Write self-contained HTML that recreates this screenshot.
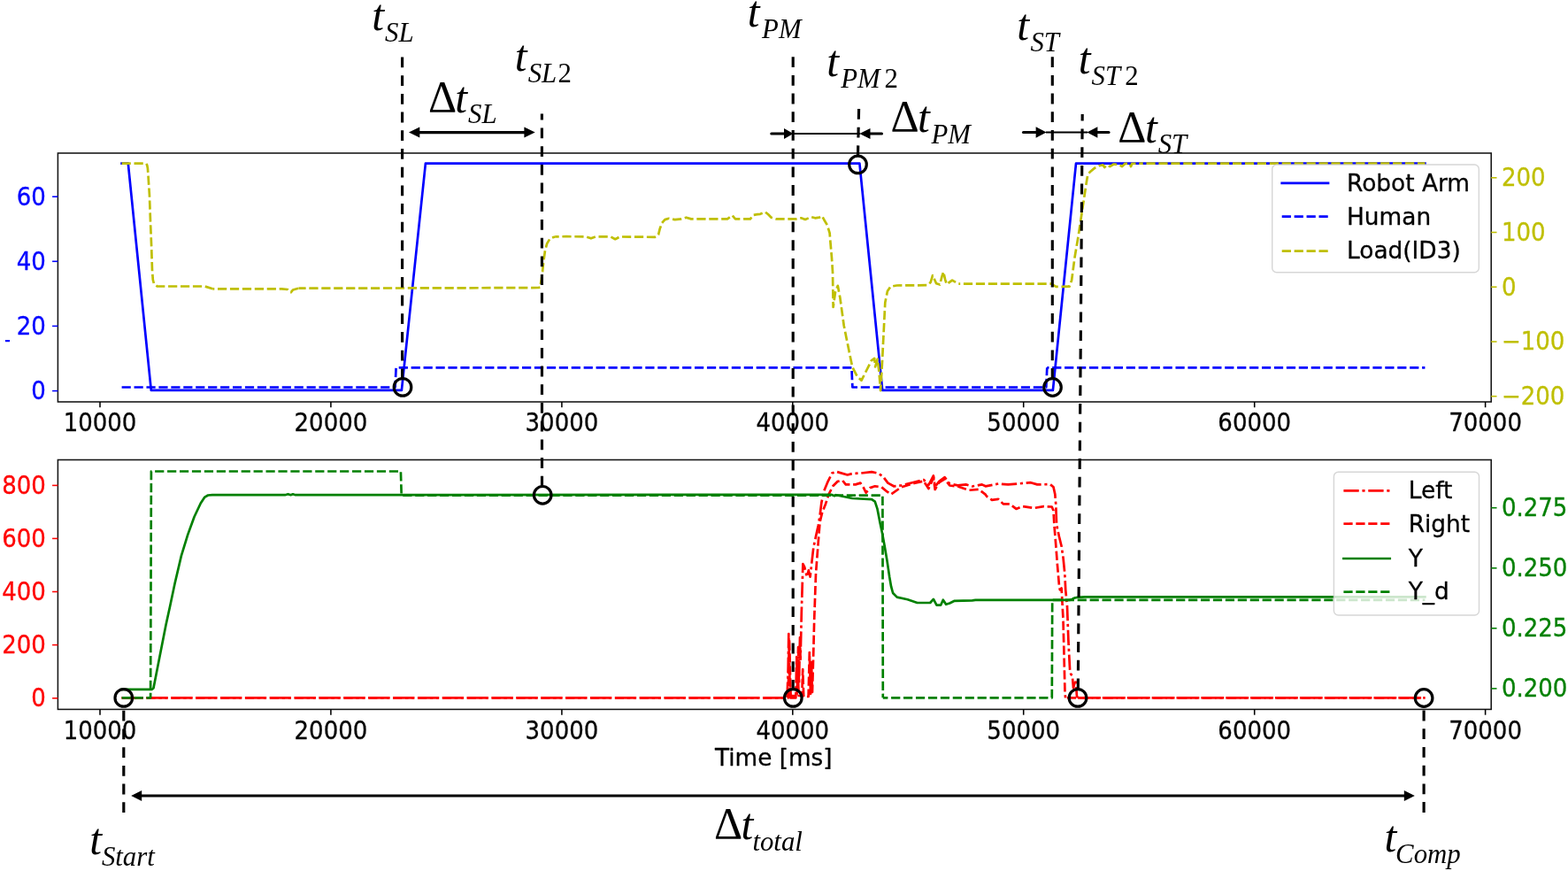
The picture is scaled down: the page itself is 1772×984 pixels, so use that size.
<!DOCTYPE html>
<html lang="en"><head><meta charset="utf-8"><title>Time chart</title>
<style>html,body{margin:0;padding:0;background:#fff;overflow:hidden}svg{display:block}.tk{font-family:"DejaVu Sans","Liberation Sans",sans-serif;font-size:26.00px;stroke-width:0.3px;stroke-linejoin:round}.m{font-family:"Liberation Serif","DejaVu Serif",serif;font-style:italic}.r{font-style:normal}</style></head><body>
<svg width="1772" height="984" viewBox="0 0 1772 984">
<rect x="0" y="0" width="1772" height="984" fill="#fff"/>
<defs><clipPath id="ct"><rect x="65.4" y="173.0" width="1619.8" height="281.0"/></clipPath><clipPath id="cb"><rect x="65.4" y="519.5" width="1619.8" height="281.9"/></clipPath></defs>
<g clip-path="url(#ct)">
<polyline points="137.6,184.7 144.8,184.7 170.8,440.9 453.9,440.9 480.9,184.7 971.4,184.7 997.2,440.9 1189.9,440.9 1216.0,184.7 1610.4,184.7" fill="none" stroke="#0000ff" stroke-width="2.70" stroke-linejoin="round" stroke-linecap="square"/>
<polyline points="137.6,437.5 446.6,437.5 447.6,415.3 962.4,415.3 963.4,437.5 1182.3,437.5 1183.3,415.3" fill="none" stroke="#0000ff" stroke-width="2.70" stroke-linejoin="round" stroke-linecap="butt" stroke-dasharray="10.22 3.71"/>
<polyline points="1183.3,415.3 1610.4,415.3" fill="none" stroke="#0000ff" stroke-width="2.70" stroke-linejoin="round" stroke-linecap="butt" stroke-dasharray="10.22 3.71" stroke-dashoffset="8.06"/>
<polyline points="137.6,184.7 165.0,184.7 166.2,186.5 166.9,190.0 167.6,200.0 168.9,220.0 170.0,250.0 171.2,280.0 172.0,305.0 172.8,316.0 174.0,320.5 177.6,323.5 231.3,323.5 240.3,326.3" fill="none" stroke="#bfbf00" stroke-width="2.70" stroke-linejoin="round" stroke-linecap="butt" stroke-dasharray="10.22 3.71"/>
<polyline points="240.3,326.3 318.2,326.3 325.0,327.0 328.9,330.2 331.0,327.5 337.4,325.7" fill="none" stroke="#bfbf00" stroke-width="2.70" stroke-linejoin="round" stroke-linecap="butt" stroke-dasharray="10.22 3.71" stroke-dashoffset="8.23"/>
<polyline points="337.4,325.7 500.0,325.4 608.5,325.0 610.3,324.6 611.8,316.0 613.1,306.7 614.3,295.5 616.0,283.0 618.2,275.1 621.6,269.5 627.2,267.4" fill="none" stroke="#bfbf00" stroke-width="2.70" stroke-linejoin="round" stroke-linecap="butt" stroke-dasharray="10.22 3.71" stroke-dashoffset="1.98"/>
<polyline points="627.2,267.4 640.0,267.2 662.0,267.3 667.9,269.3 673.5,267.3 690.0,267.4 695.3,270.2 700.5,267.5 740.1,267.8 744.1,265.0 745.8,258.2 748.0,252.0 751.4,248.1 755.9,246.8 762.7,248.1 770.0,247.3 775.6,245.7 781.0,247.4 822.0,247.4 827.6,243.5 831.0,247.4 847.9,247.4 851.3,242.9 856.0,242.2 859.2,241.8 864.8,239.5 868.2,242.3 871.6,245.7 877.2,247.4 900.0,247.4 905.4,246.3 910.0,248.0 916.7,245.1 921.2,246.3 925.8,245.7 929.1,244.0 931.4,248.5 934.8,254.2 937.6,263.2 938.7,276.7 939.9,290.3 941.0,307.2 941.6,347.0 944.0,330.0 946.8,322.8 949.4,336.6 953.7,367.7 958.9,393.6 963.2,414.4 968.4,424.7 973.5,429.9 978.7,419.5 984.8,407.4 988.2,404.9 989.1,414.4 991.7,405.7 993.4,419.5 995.1,441.1 996.9,410.9 998.6,376.4 1000.3,341.8 1002.9,328.9 1006.4,323.7 1013.3,322.5 1047.8,322.2 1051.7,318.9 1054.0,311.2 1058.1,320.2 1062.1,321.6 1064.4,312.6 1066.2,307.2 1068.0,315.3 1069.8,321.2 1076.1,316.6 1083.3,320.7" fill="none" stroke="#bfbf00" stroke-width="2.70" stroke-linejoin="round" stroke-linecap="butt" stroke-dasharray="10.22 3.71" stroke-dashoffset="5.73"/>
<polyline points="1083.3,320.7 1188.0,320.7 1193.5,323.9 1208.5,323.7 1211.1,316.8 1214.5,290.9 1218.9,265.0 1221.5,247.7 1224.9,225.3 1227.5,208.0 1229.2,197.6 1231.8,194.2 1237.0,189.9 1242.2,187.3 1246.5,186.4 1248.2,189.0 1250.8,186.4 1254.3,188.1 1258.6,185.5 1264.6,186.1 1268.1,188.1 1271.5,184.8 1276.7,184.8 1278.1,188.1 1279.3,184.8 1290.0,184.7" fill="none" stroke="#bfbf00" stroke-width="2.70" stroke-linejoin="round" stroke-linecap="butt" stroke-dasharray="10.22 3.71" stroke-dashoffset="8.33"/>
<polyline points="1290.0,184.7 1610.4,184.7" fill="none" stroke="#bfbf00" stroke-width="2.70" stroke-linejoin="round" stroke-linecap="butt" stroke-dasharray="10.22 3.71" stroke-dashoffset="8.49"/>
</g>
<g clip-path="url(#cb)">
<polyline points="137.6,788.4 889.5,788.4 890.6,760.0 891.3,716.0 892.4,765.0 893.3,788.4 899.3,788.4 900.3,742.0 901.2,781.0 902.1,731.0 903.0,772.0 904.0,720.0 904.6,745.0 905.8,692.0 907.4,637.0 909.2,640.7 912.0,651.7 913.8,644.4 915.6,651.7 917.4,635.2 919.3,618.8 922.0,606.0 924.8,593.2 926.6,582.2 928.4,567.6 931.2,554.8 935.7,543.8 940.3,534.6 944.9,532.8 957.7,536.5 963.2,535.0 972.3,534.6 985.1,533.2 992.4,534.6 997.9,538.3 1003.4,545.6 1010.0,549.3 1018.3,548.5 1033.0,544.7 1043.9,542.0 1049.4,548.0 1054.9,537.4 1056.7,550.0 1061.3,543.8 1067.7,539.2 1073.2,546.5 1082.3,548.4 1091.5,547.4 1098.8,549.5 1109.7,547.4 1113.7,549.3 1128.3,546.5 1139.3,547.4 1164.9,545.2 1172.2,547.4 1186.8,547.1 1190.5,550.2 1192.3,558.4 1193.2,569.4 1194.1,593.2 1196.9,606.0 1199.6,617.0 1201.5,629.8 1203.3,648.0 1204.2,666.3 1206.0,684.6 1207.4,723.5 1209.1,757.0 1210.2,761.5 1211.9,763.7 1213.0,777.2 1215.3,768.2 1216.4,778.3 1216.9,786.1 1218.0,788.4" fill="none" stroke="#ff0000" stroke-width="2.70" stroke-linejoin="round" stroke-linecap="butt" stroke-dasharray="17.32 3.71 3.13 3.71"/>
<polyline points="1218.0,788.4 1610.4,788.4" fill="none" stroke="#ff0000" stroke-width="2.70" stroke-linejoin="round" stroke-linecap="butt" stroke-dasharray="17.32 3.71 3.13 3.71"/>
<polyline points="137.6,788.4 890.6,788.4 892.0,722.0 893.6,786.0 900.5,786.0 901.6,750.0 902.6,786.0 906.3,786.0 907.2,756.0 908.2,787.0 913.6,787.0 914.8,737.0 916.0,784.0 917.0,748.0 918.0,782.0 919.2,740.0 920.2,700.0 922.0,648.0 924.8,611.5 926.6,589.5 929.3,578.5 933.0,569.4 936.6,558.4 941.2,549.3 946.7,543.8 952.2,542.9 955.8,547.4 966.8,547.4 972.3,545.6 976.0,551.1 978.7,556.6 983.3,551.1 988.8,549.3 996.1,550.2 1001.6,554.8 1007.0,558.4 1018.3,550.5 1033.0,546.0 1043.9,543.5 1049.4,552.0 1054.9,540.0 1056.7,553.0 1061.3,545.0 1067.7,541.0 1073.2,548.5 1082.3,549.5 1095.1,553.8 1106.1,552.9 1113.4,558.4 1115.5,561.2 1121.0,564.8 1128.3,563.9 1133.8,569.4 1141.1,569.4 1148.4,574.9 1155.7,572.1 1168.5,574.0 1179.5,572.1 1188.7,572.5 1190.5,576.7 1191.4,593.2 1193.2,615.1 1195.0,638.9 1196.9,660.8 1197.8,666.3 1199.6,664.5 1200.5,681.0 1201.5,700.0 1202.5,740.0 1203.5,782.7 1204.1,788.4" fill="none" stroke="#ff0000" stroke-width="2.70" stroke-linejoin="round" stroke-linecap="butt" stroke-dasharray="10.22 3.71"/>
<polyline points="1204.1,788.4 1610.4,788.4" fill="none" stroke="#ff0000" stroke-width="2.70" stroke-linejoin="round" stroke-linecap="butt" stroke-dasharray="10.22 3.71" stroke-dashoffset="12.18"/>
<polyline points="137.6,778.9 171.8,778.9 173.5,777.2 187.5,706.0 192.1,685.0 197.6,659.0 204.9,627.9 212.2,604.1 219.5,584.0 226.8,568.5 231.4,561.6 235.1,559.5 240.0,559.2 322.0,559.2 325.5,558.2 328.5,559.2 331.0,558.3 334.0,559.2 939.4,558.8 943.0,560.2 944.9,559.2 963.2,563.0 985.1,564.1 988.8,566.6 991.5,574.9 994.3,589.5 997.0,602.3 999.7,616.9 1002.5,633.4 1005.2,651.7 1007.1,662.7 1009.1,670.0 1013.7,674.6 1025.6,677.3 1036.6,681.0 1051.2,681.0 1054.9,676.9 1058.5,683.7 1063.1,683.7 1065.8,677.7 1069.1,682.8 1073.2,681.5 1078.7,678.8 1098.8,678.3 1102.4,677.9 1208.8,677.9 1211.5,677.0 1214.0,675.6 1218.0,674.8 1226.0,674.4 1610.4,674.4" fill="none" stroke="#008000" stroke-width="2.70" stroke-linejoin="round" stroke-linecap="square"/>
<polyline points="137.6,788.3 170.1,788.3 170.9,532.5 452.9,532.5 453.7,559.6 997.4,559.6 997.8,788.3" fill="none" stroke="#008000" stroke-width="2.70" stroke-linejoin="round" stroke-linecap="butt" stroke-dasharray="10.22 3.71"/>
<polyline points="997.8,788.3 1188.8,788.3 1189.2,677.9" fill="none" stroke="#008000" stroke-width="2.70" stroke-linejoin="round" stroke-linecap="butt" stroke-dasharray="10.22 3.71" stroke-dashoffset="4.63"/>
<polyline points="1189.2,677.9 1610.4,677.9" fill="none" stroke="#008000" stroke-width="2.70" stroke-linejoin="round" stroke-linecap="butt" stroke-dasharray="10.22 3.71" stroke-dashoffset="13.33"/>
</g>
<rect x="65.4" y="173.0" width="1619.8" height="281.0" fill="none" stroke="#141414" stroke-width="1.55"/>
<rect x="65.4" y="519.5" width="1619.8" height="281.9" fill="none" stroke="#141414" stroke-width="1.55"/>
<line x1="113.0" y1="454.0" x2="113.0" y2="460.3" stroke="#000" stroke-width="1.55"/>
<text class="tk" transform="translate(113.0 486.6) scale(1 1.07)" text-anchor="middle" fill="#000" stroke="#000">10000</text>
<line x1="373.9" y1="454.0" x2="373.9" y2="460.3" stroke="#000" stroke-width="1.55"/>
<text class="tk" transform="translate(373.9 486.6) scale(1 1.07)" text-anchor="middle" fill="#000" stroke="#000">20000</text>
<line x1="634.9" y1="454.0" x2="634.9" y2="460.3" stroke="#000" stroke-width="1.55"/>
<text class="tk" transform="translate(634.9 486.6) scale(1 1.07)" text-anchor="middle" fill="#000" stroke="#000">30000</text>
<line x1="895.8" y1="454.0" x2="895.8" y2="460.3" stroke="#000" stroke-width="1.55"/>
<text class="tk" transform="translate(895.8 486.6) scale(1 1.07)" text-anchor="middle" fill="#000" stroke="#000">40000</text>
<line x1="1156.7" y1="454.0" x2="1156.7" y2="460.3" stroke="#000" stroke-width="1.55"/>
<text class="tk" transform="translate(1156.7 486.6) scale(1 1.07)" text-anchor="middle" fill="#000" stroke="#000">50000</text>
<line x1="1417.7" y1="454.0" x2="1417.7" y2="460.3" stroke="#000" stroke-width="1.55"/>
<text class="tk" transform="translate(1417.7 486.6) scale(1 1.07)" text-anchor="middle" fill="#000" stroke="#000">60000</text>
<line x1="1678.6" y1="454.0" x2="1678.6" y2="460.3" stroke="#000" stroke-width="1.55"/>
<text class="tk" transform="translate(1678.6 486.6) scale(1 1.07)" text-anchor="middle" fill="#000" stroke="#000">70000</text>
<line x1="113.0" y1="801.4" x2="113.0" y2="807.7" stroke="#000" stroke-width="1.55"/>
<text class="tk" transform="translate(113.0 834.8) scale(1 1.07)" text-anchor="middle" fill="#000" stroke="#000">10000</text>
<line x1="373.9" y1="801.4" x2="373.9" y2="807.7" stroke="#000" stroke-width="1.55"/>
<text class="tk" transform="translate(373.9 834.8) scale(1 1.07)" text-anchor="middle" fill="#000" stroke="#000">20000</text>
<line x1="634.9" y1="801.4" x2="634.9" y2="807.7" stroke="#000" stroke-width="1.55"/>
<text class="tk" transform="translate(634.9 834.8) scale(1 1.07)" text-anchor="middle" fill="#000" stroke="#000">30000</text>
<line x1="895.8" y1="801.4" x2="895.8" y2="807.7" stroke="#000" stroke-width="1.55"/>
<text class="tk" transform="translate(895.8 834.8) scale(1 1.07)" text-anchor="middle" fill="#000" stroke="#000">40000</text>
<line x1="1156.7" y1="801.4" x2="1156.7" y2="807.7" stroke="#000" stroke-width="1.55"/>
<text class="tk" transform="translate(1156.7 834.8) scale(1 1.07)" text-anchor="middle" fill="#000" stroke="#000">50000</text>
<line x1="1417.7" y1="801.4" x2="1417.7" y2="807.7" stroke="#000" stroke-width="1.55"/>
<text class="tk" transform="translate(1417.7 834.8) scale(1 1.07)" text-anchor="middle" fill="#000" stroke="#000">60000</text>
<line x1="1678.6" y1="801.4" x2="1678.6" y2="807.7" stroke="#000" stroke-width="1.55"/>
<text class="tk" transform="translate(1678.6 834.8) scale(1 1.07)" text-anchor="middle" fill="#000" stroke="#000">70000</text>
<line x1="59.1" y1="222.2" x2="65.4" y2="222.2" stroke="#0000ff" stroke-width="1.55"/>
<text class="tk" transform="translate(51.8 231.5) scale(1 1.07)" text-anchor="end" fill="#0000ff" stroke="#0000ff">60</text>
<line x1="59.1" y1="295.3" x2="65.4" y2="295.3" stroke="#0000ff" stroke-width="1.55"/>
<text class="tk" transform="translate(51.8 304.6) scale(1 1.07)" text-anchor="end" fill="#0000ff" stroke="#0000ff">40</text>
<line x1="59.1" y1="368.4" x2="65.4" y2="368.4" stroke="#0000ff" stroke-width="1.55"/>
<text class="tk" transform="translate(51.8 377.8) scale(1 1.07)" text-anchor="end" fill="#0000ff" stroke="#0000ff">20</text>
<line x1="59.1" y1="441.6" x2="65.4" y2="441.6" stroke="#0000ff" stroke-width="1.55"/>
<text class="tk" transform="translate(51.8 450.9) scale(1 1.07)" text-anchor="end" fill="#0000ff" stroke="#0000ff">0</text>
<line x1="1685.2" y1="200.8" x2="1691.5" y2="200.8" stroke="#bfbf00" stroke-width="1.55"/>
<text class="tk" transform="translate(1697.0 210.1) scale(1 1.07)" fill="#bfbf00" stroke="#bfbf00">200</text>
<line x1="1685.2" y1="262.5" x2="1691.5" y2="262.5" stroke="#bfbf00" stroke-width="1.55"/>
<text class="tk" transform="translate(1697.0 271.8) scale(1 1.07)" fill="#bfbf00" stroke="#bfbf00">100</text>
<line x1="1685.2" y1="324.2" x2="1691.5" y2="324.2" stroke="#bfbf00" stroke-width="1.55"/>
<text class="tk" transform="translate(1697.0 333.6) scale(1 1.07)" fill="#bfbf00" stroke="#bfbf00">0</text>
<line x1="1685.2" y1="386.0" x2="1691.5" y2="386.0" stroke="#bfbf00" stroke-width="1.55"/>
<text class="tk" transform="translate(1697.0 395.3) scale(1 1.07)" fill="#bfbf00" stroke="#bfbf00">−100</text>
<line x1="1685.2" y1="447.7" x2="1691.5" y2="447.7" stroke="#bfbf00" stroke-width="1.55"/>
<text class="tk" transform="translate(1697.0 457.0) scale(1 1.07)" fill="#bfbf00" stroke="#bfbf00">−200</text>
<line x1="59.1" y1="548.4" x2="65.4" y2="548.4" stroke="#ff0000" stroke-width="1.55"/>
<text class="tk" transform="translate(51.8 557.7) scale(1 1.07)" text-anchor="end" fill="#ff0000" stroke="#ff0000">800</text>
<line x1="59.1" y1="608.4" x2="65.4" y2="608.4" stroke="#ff0000" stroke-width="1.55"/>
<text class="tk" transform="translate(51.8 617.7) scale(1 1.07)" text-anchor="end" fill="#ff0000" stroke="#ff0000">600</text>
<line x1="59.1" y1="668.5" x2="65.4" y2="668.5" stroke="#ff0000" stroke-width="1.55"/>
<text class="tk" transform="translate(51.8 677.8) scale(1 1.07)" text-anchor="end" fill="#ff0000" stroke="#ff0000">400</text>
<line x1="59.1" y1="728.6" x2="65.4" y2="728.6" stroke="#ff0000" stroke-width="1.55"/>
<text class="tk" transform="translate(51.8 737.9) scale(1 1.07)" text-anchor="end" fill="#ff0000" stroke="#ff0000">200</text>
<line x1="59.1" y1="788.8" x2="65.4" y2="788.8" stroke="#ff0000" stroke-width="1.55"/>
<text class="tk" transform="translate(51.8 798.1) scale(1 1.07)" text-anchor="end" fill="#ff0000" stroke="#ff0000">0</text>
<line x1="1685.2" y1="573.7" x2="1691.5" y2="573.7" stroke="#008000" stroke-width="1.55"/>
<text class="tk" transform="translate(1697.0 583.0) scale(1 1.07)" fill="#008000" stroke="#008000">0.275</text>
<line x1="1685.2" y1="641.8" x2="1691.5" y2="641.8" stroke="#008000" stroke-width="1.55"/>
<text class="tk" transform="translate(1697.0 651.1) scale(1 1.07)" fill="#008000" stroke="#008000">0.250</text>
<line x1="1685.2" y1="709.8" x2="1691.5" y2="709.8" stroke="#008000" stroke-width="1.55"/>
<text class="tk" transform="translate(1697.0 719.1) scale(1 1.07)" fill="#008000" stroke="#008000">0.225</text>
<line x1="1685.2" y1="777.9" x2="1691.5" y2="777.9" stroke="#008000" stroke-width="1.55"/>
<text class="tk" transform="translate(1697.0 787.2) scale(1 1.07)" fill="#008000" stroke="#008000">0.200</text>
<rect x="6" y="384" width="5" height="2.2" fill="#0000ff"/>
<text class="tk" transform="translate(874.3 865.0) scale(1 1.04)" style="font-size:26.30px" text-anchor="middle" fill="#000" stroke="#000">Time [ms]</text>
<rect x="1437.7" y="186.0" width="233.6" height="121.7" rx="5" ry="5" fill="#fff" fill-opacity="0.8" stroke="#ccc" stroke-opacity="0.8" stroke-width="1.40"/>
<polyline points="1448.7,206.8 1501.0,206.8" fill="none" stroke="#0000ff" stroke-width="2.70" stroke-linejoin="round" stroke-linecap="square"/>
<text class="tk" transform="translate(1522.0 215.6) scale(1 1.03)" style="font-size:26.40px" fill="#000" stroke="#000">Robot Arm</text>
<polyline points="1448.7,244.6 1501.0,244.6" fill="none" stroke="#0000ff" stroke-width="2.70" stroke-linejoin="round" stroke-linecap="butt" stroke-dasharray="10.22 3.71"/>
<text class="tk" transform="translate(1522.0 254.3) scale(1 1.03)" style="font-size:26.40px" fill="#000" stroke="#000">Human</text>
<polyline points="1448.7,283.6 1501.0,283.6" fill="none" stroke="#bfbf00" stroke-width="2.70" stroke-linejoin="round" stroke-linecap="butt" stroke-dasharray="10.22 3.71"/>
<text class="tk" transform="translate(1522.0 292.4) scale(1 1.03)" style="font-size:26.40px" fill="#000" stroke="#000">Load(ID3)</text>
<rect x="1507.4" y="533.3" width="164.1" height="161.7" rx="5" ry="5" fill="#fff" fill-opacity="0.8" stroke="#ccc" stroke-opacity="0.8" stroke-width="1.40"/>
<polyline points="1518.4,554.3 1570.7,554.3" fill="none" stroke="#ff0000" stroke-width="2.70" stroke-linejoin="round" stroke-linecap="butt" stroke-dasharray="17.32 3.71 3.13 3.71"/>
<text class="tk" transform="translate(1591.7 562.8) scale(1 1.03)" style="font-size:26.40px" fill="#000" stroke="#000">Left</text>
<polyline points="1518.4,591.7 1570.7,591.7" fill="none" stroke="#ff0000" stroke-width="2.70" stroke-linejoin="round" stroke-linecap="butt" stroke-dasharray="10.22 3.71"/>
<text class="tk" transform="translate(1591.7 601.4) scale(1 1.03)" style="font-size:26.40px" fill="#000" stroke="#000">Right</text>
<polyline points="1518.4,631.0 1570.7,631.0" fill="none" stroke="#008000" stroke-width="2.70" stroke-linejoin="round" stroke-linecap="square"/>
<text class="tk" transform="translate(1591.7 639.8) scale(1 1.03)" style="font-size:26.40px" fill="#000" stroke="#000">Y</text>
<polyline points="1518.4,668.7 1570.7,668.7" fill="none" stroke="#008000" stroke-width="2.70" stroke-linejoin="round" stroke-linecap="butt" stroke-dasharray="10.22 3.71"/>
<text class="tk" transform="translate(1591.7 676.9) scale(1 1.03)" style="font-size:26.40px" fill="#000" stroke="#000">Y_d</text>
<g fill="none" stroke="#000" stroke-width="3.15">
<line x1="454.6" y1="64.5" x2="454.6" y2="427.5" stroke-dasharray="11.80 8.90" stroke-dashoffset="0.00"/>
<line x1="612.4" y1="128.5" x2="612.5" y2="549.5" stroke-dasharray="11.80 8.90" stroke-dashoffset="4.70"/>
<line x1="896.2" y1="64.2" x2="896.2" y2="778.5" stroke-dasharray="11.80 8.90" stroke-dashoffset="0.00"/>
<line x1="970.6" y1="123.0" x2="969.5" y2="176.5" stroke-dasharray="11.80 8.90" stroke-dashoffset="0.00"/>
<line x1="1189.3" y1="64.2" x2="1189.3" y2="427.5" stroke-dasharray="11.80 8.90" stroke-dashoffset="0.00"/>
<line x1="1223.2" y1="128.9" x2="1218.3" y2="778.5" stroke-dasharray="11.80 8.90" stroke-dashoffset="4.10"/>
<line x1="139.8" y1="802.8" x2="139.8" y2="918.2" stroke-dasharray="11.80 8.90" stroke-dashoffset="0.00"/>
<line x1="1609.1" y1="802.6" x2="1609.1" y2="918.6" stroke-dasharray="11.80 8.90" stroke-dashoffset="0.00"/>
<circle cx="455.0" cy="437.4" r="9.8" stroke-width="3.20"/>
<circle cx="613.2" cy="559.3" r="9.8" stroke-width="3.20"/>
<circle cx="896.3" cy="788.4" r="9.8" stroke-width="3.20"/>
<circle cx="969.5" cy="185.9" r="9.8" stroke-width="3.20"/>
<circle cx="1189.5" cy="437.5" r="9.8" stroke-width="3.20"/>
<circle cx="1218.0" cy="788.4" r="9.8" stroke-width="3.20"/>
<circle cx="139.8" cy="788.4" r="9.8" stroke-width="3.20"/>
<circle cx="1609.1" cy="788.5" r="9.8" stroke-width="3.20"/>
</g>
<line x1="470.0" y1="149.6" x2="597.0" y2="149.6" stroke="#000" stroke-width="3.10" stroke-linecap="butt"/>
<polygon points="462.0,149.6 474.3,143.6 474.3,155.6" fill="#000"/>
<polygon points="604.7,149.6 592.4,143.6 592.4,155.6" fill="#000"/>
<line x1="871.8" y1="151.0" x2="888.0" y2="151.0" stroke="#000" stroke-width="3.10" stroke-linecap="round"/>
<line x1="895.0" y1="151.0" x2="972.0" y2="151.0" stroke="#000" stroke-width="2.00" stroke-linecap="butt"/>
<line x1="982.0" y1="151.0" x2="996.5" y2="151.0" stroke="#000" stroke-width="3.10" stroke-linecap="round"/>
<polygon points="896.5,151.0 886.0,145.1 886.0,156.9" fill="#000"/>
<polygon points="971.3,151.0 983.5,145.1 983.5,156.9" fill="#000"/>
<line x1="1156.5" y1="149.5" x2="1172.0" y2="149.5" stroke="#000" stroke-width="3.10" stroke-linecap="round"/>
<line x1="1182.0" y1="149.5" x2="1229.0" y2="149.5" stroke="#000" stroke-width="2.20" stroke-linecap="butt"/>
<line x1="1239.0" y1="149.5" x2="1253.0" y2="149.5" stroke="#000" stroke-width="3.10" stroke-linecap="round"/>
<polygon points="1182.6,149.5 1170.6,143.3 1170.6,155.7" fill="#000"/>
<polygon points="1228.4,149.5 1240.4,143.3 1240.4,155.7" fill="#000"/>
<line x1="156.0" y1="899.1" x2="1590.0" y2="899.1" stroke="#000" stroke-width="3.00" stroke-linecap="butt"/>
<polygon points="148.2,899.1 160.2,893.1 160.2,905.1" fill="#000"/>
<polygon points="1598.8,899.1 1586.8,893.1 1586.8,905.1" fill="#000"/>
<text class="m" fill="#000"><tspan x="420.2" y="34.2" font-size="49.6px">t</tspan><tspan x="435.1" y="46.8" font-size="30.8px">SL</tspan></text>
<text class="m" fill="#000"><tspan x="581.8" y="80.3" font-size="49.6px">t</tspan><tspan x="596.7" y="92.7" font-size="30.8px">SL</tspan><tspan class="r" x="630.5" y="92.9" font-size="30.8px">2</tspan></text>
<text class="m" fill="#000"><tspan class="r" x="484.0" y="126.2" font-size="50.0px">Δ</tspan><tspan x="514.3" y="126.7" font-size="49.6px">t</tspan><tspan x="529.1" y="139.3" font-size="30.8px">SL</tspan></text>
<text class="m" fill="#000"><tspan x="844.8" y="29.9" font-size="49.6px">t</tspan><tspan x="861.1" y="43.0" font-size="30.8px">PM</tspan></text>
<text class="m" fill="#000"><tspan x="934.3" y="85.8" font-size="49.6px">t</tspan><tspan x="950.3" y="98.5" font-size="30.8px">PM</tspan><tspan class="r" x="999.6" y="98.6" font-size="30.8px">2</tspan></text>
<text class="m" fill="#000"><tspan class="r" x="1006.5" y="148.4" font-size="50.0px">Δ</tspan><tspan x="1037.0" y="148.6" font-size="49.6px">t</tspan><tspan x="1052.5" y="161.7" font-size="30.8px">PM</tspan></text>
<text class="m" fill="#000"><tspan x="1149.3" y="44.7" font-size="49.6px">t</tspan><tspan x="1164.4" y="57.5" font-size="30.8px">ST</tspan></text>
<text class="m" fill="#000"><tspan x="1218.7" y="82.6" font-size="49.6px">t</tspan><tspan x="1233.6" y="95.7" font-size="30.8px">ST</tspan><tspan class="r" x="1271.2" y="95.9" font-size="30.8px">2</tspan></text>
<text class="m" fill="#000"><tspan class="r" x="1263.3" y="160.3" font-size="50.0px">Δ</tspan><tspan x="1294.0" y="160.8" font-size="49.6px">t</tspan><tspan x="1308.7" y="173.2" font-size="30.8px">ST</tspan></text>
<text class="m" fill="#000"><tspan x="101.2" y="964.8" font-size="49.6px">t</tspan><tspan x="114.9" y="977.5" font-size="30.8px">Start</tspan></text>
<text class="m" fill="#000"><tspan class="r" x="806.9" y="947.4" font-size="50.0px">Δ</tspan><tspan x="837.6" y="947.7" font-size="49.6px">t</tspan><tspan x="850.4" y="961.1" font-size="30.8px">total</tspan></text>
<text class="m" fill="#000"><tspan x="1564.5" y="962.2" font-size="49.6px">t</tspan><tspan x="1577.1" y="974.9" font-size="30.8px">Comp</tspan></text>
</svg></body></html>
